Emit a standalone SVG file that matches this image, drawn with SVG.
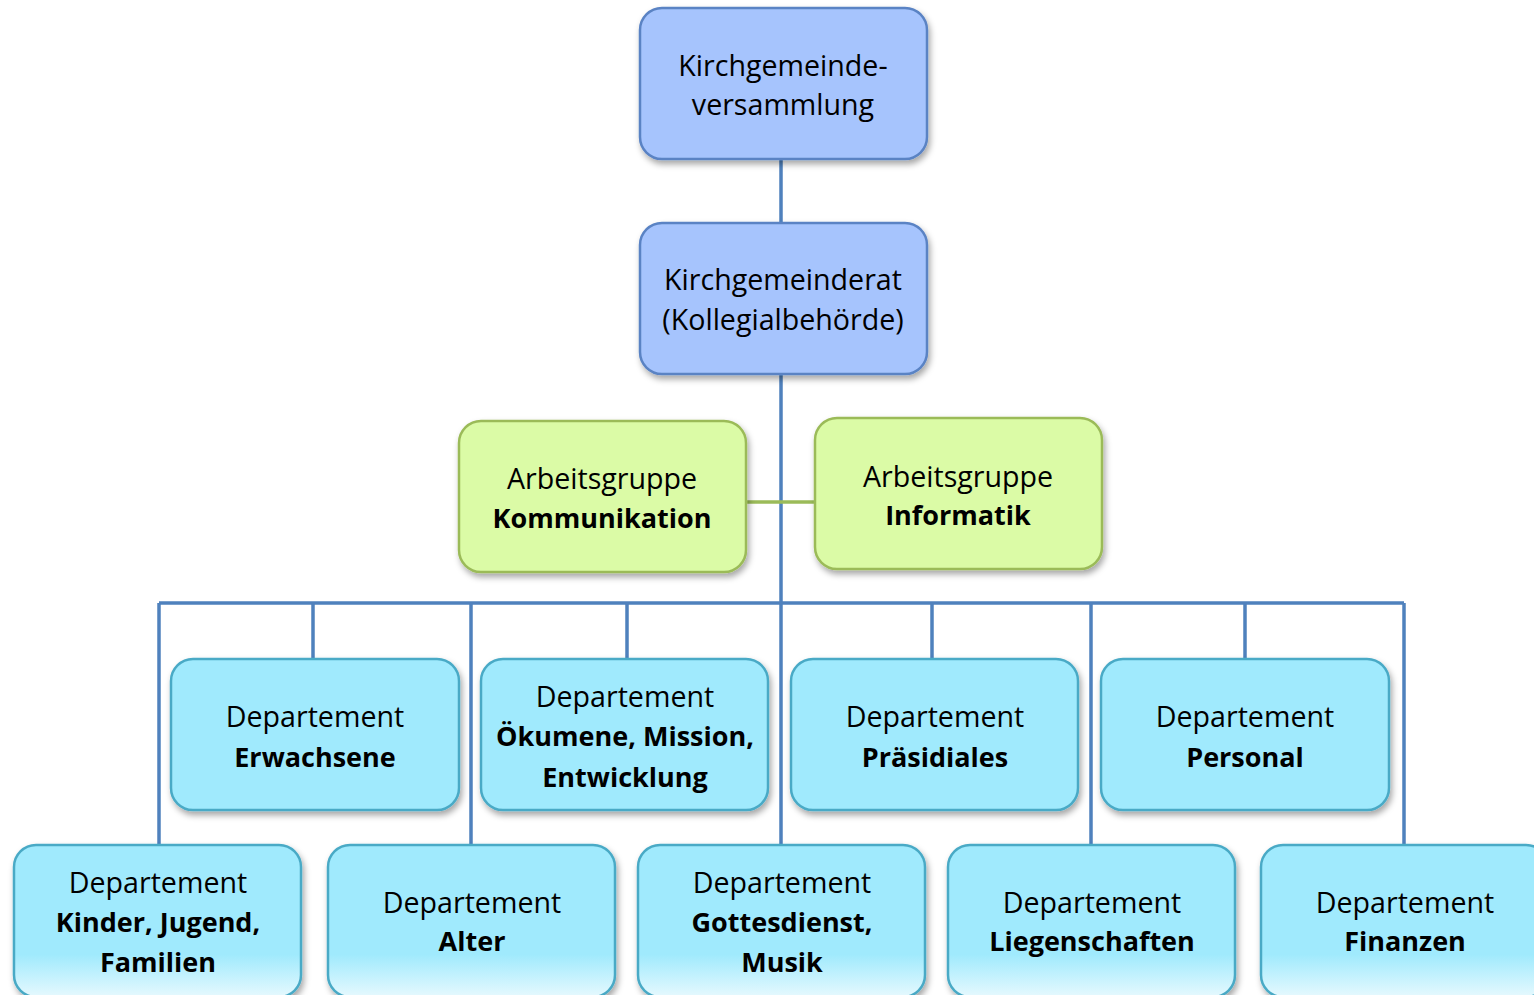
<svg xmlns="http://www.w3.org/2000/svg" width="1534" height="995" viewBox="0 0 1534 995">
<style>
text{font-family:"Open Sans","Noto Sans","Liberation Sans",sans-serif;font-size:28.6px;fill:#000;text-anchor:middle;dominant-baseline:central}
.b{font-weight:bold;font-size:27px}
.blue{fill:#a6c4fd;stroke:#5a83c4;stroke-width:2.5}
.green{fill:#dbfba6;stroke:#9bbb59;stroke-width:2.5}
.cyan{fill:#a0eafd;stroke:#4aaac6;stroke-width:2.5}
.cyan2{fill:url(#cg);stroke:#4aaac6;stroke-width:2.5}
.con{stroke:#4f81bd;stroke-width:3.5;fill:none}
.gcon{stroke:#9bbb59;stroke-width:3.5;fill:none}
</style>
<defs>
<filter id="sh" x="-10%" y="-10%" width="125%" height="130%">
<feDropShadow dx="2" dy="4" stdDeviation="3" flood-color="#000" flood-opacity="0.35"/>
</filter>
<linearGradient id="cg" x1="0" y1="0" x2="0" y2="1">
<stop offset="0" stop-color="#a0eafd"/>
<stop offset="0.72" stop-color="#a0eafd"/>
<stop offset="1" stop-color="#e6f9fe"/>
</linearGradient>
</defs>
<rect width="1534" height="995" fill="#fff"/>
<g id="connectors">
<path class="con" d="M781 159V223M781 374V845"/>
<path class="gcon" d="M746 502H815"/>
<path class="con" d="M159 603H1404M159 603V845M313 603V659M471 603V845M627 603V659M932 603V659M1091 603V845M1245 603V659M1404 603V845"/>
</g>
<g id="n1"><rect class="blue" filter="url(#sh)" x="640" y="8" width="287" height="151" rx="22"/><text x="783" y="64">Kirchgemeinde-</text><text x="783" y="103">versammlung</text></g>
<g id="n2"><rect class="blue" filter="url(#sh)" x="640" y="223" width="287" height="151" rx="22"/><text x="783" y="278">Kirchgemeinderat</text><text x="783" y="318">(Kollegialbehörde)</text></g>
<g id="ag1"><rect class="green" filter="url(#sh)" x="459" y="421" width="287" height="151" rx="22"/><text x="602" y="477">Arbeitsgruppe</text><text class="b" x="602" y="517">Kommunikation</text></g>
<g id="ag2"><rect class="green" filter="url(#sh)" x="815" y="418" width="287" height="151" rx="22"/><text x="958" y="475">Arbeitsgruppe</text><text class="b" x="958" y="514">Informatik</text></g>
<g id="d-erw"><rect class="cyan" filter="url(#sh)" x="171" y="659" width="288" height="151" rx="22"/><text x="315" y="715">Departement</text><text class="b" x="315" y="756">Erwachsene</text></g>
<g id="d-oek"><rect class="cyan" filter="url(#sh)" x="481" y="659" width="287" height="151" rx="22"/><text x="625" y="695">Departement</text><text class="b" x="625" y="735">Ökumene, Mission,</text><text class="b" x="625" y="776">Entwicklung</text></g>
<g id="d-pra"><rect class="cyan" filter="url(#sh)" x="791" y="659" width="287" height="151" rx="22"/><text x="935" y="715">Departement</text><text class="b" x="935" y="756">Präsidiales</text></g>
<g id="d-per"><rect class="cyan" filter="url(#sh)" x="1101" y="659" width="288" height="151" rx="22"/><text x="1245" y="715">Departement</text><text class="b" x="1245" y="756">Personal</text></g>
<g id="d-kin"><rect class="cyan2" filter="url(#sh)" x="14" y="845" width="287" height="152" rx="22"/><text x="158" y="881">Departement</text><text class="b" x="158" y="921">Kinder, Jugend,</text><text class="b" x="158" y="961">Familien</text></g>
<g id="d-alt"><rect class="cyan2" filter="url(#sh)" x="328" y="845" width="287" height="152" rx="22"/><text x="472" y="901">Departement</text><text class="b" x="472" y="940">Alter</text></g>
<g id="d-got"><rect class="cyan2" filter="url(#sh)" x="638" y="845" width="287" height="152" rx="22"/><text x="782" y="881">Departement</text><text class="b" x="782" y="921">Gottesdienst,</text><text class="b" x="782" y="961">Musik</text></g>
<g id="d-lie"><rect class="cyan2" filter="url(#sh)" x="948" y="845" width="287" height="152" rx="22"/><text x="1092" y="901">Departement</text><text class="b" x="1092" y="940">Liegenschaften</text></g>
<g id="d-fin"><rect class="cyan2" filter="url(#sh)" x="1261" y="845" width="287" height="152" rx="22"/><text x="1405" y="901">Departement</text><text class="b" x="1405" y="940">Finanzen</text></g>
</svg>
